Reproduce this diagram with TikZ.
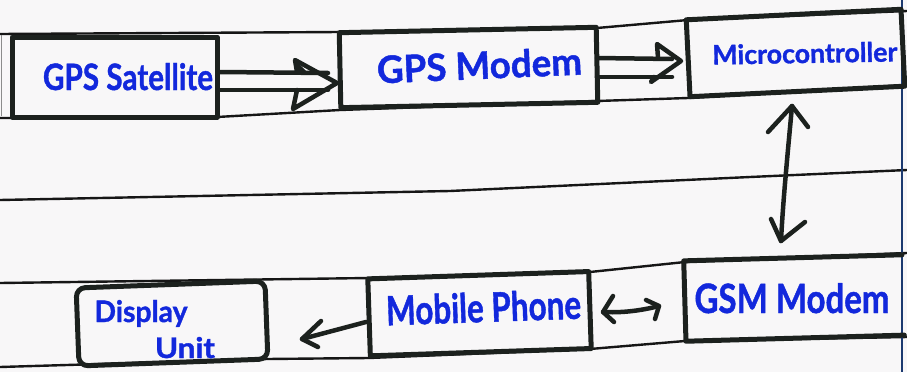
\documentclass[tikz,border=0pt]{standalone}
\usepackage{fontspec}
\setmainfont{Lato}
\newfontfamily\handfont{Lato}[BoldFeatures={FakeBold=1.2}]
\usepackage{graphicx}
\usetikzlibrary{calc}

\definecolor{ink}{RGB}{28,33,30}
\definecolor{pen}{RGB}{18,40,220}
\definecolor{marginblue}{RGB}{28,58,112}
\definecolor{paper}{RGB}{248,247,248}
\definecolor{ruleink}{RGB}{22,22,22}

\begin{document}
\begin{tikzpicture}[x=1pt,y=-1pt,
  box/.style={draw=ink, line width=5pt, inner sep=0pt, line join=round},
  openbox/.style={inner sep=0pt},
  boxedge/.style={draw=ink, line width=5pt, line join=round, line cap=round},
  ruled/.style={draw=ruleink, line width=2.4pt},
  marginline/.style={draw=marginblue, line width=2.4pt},
  conn/.style={draw=ink, line width=4.5pt, line cap=round, line join=round},
  txt/.style={text=pen, inner sep=0pt, font=\handfont\bfseries, anchor=base}]

% paper
\fill[paper] (0,0) rectangle (907,372);
\useasboundingbox (0,0) rectangle (907,372);

% ruled lines of the notebook page
\draw[ruled] (0,34) -- (340,32) -- (597,28) -- (688,20) -- (907,11);
\draw[ruled] (0,118) -- (217,117) -- (340,110) -- (597,101) -- (688,98) -- (907,85);
\draw[ruled] (0,200) -- (450,191) -- (750,177) -- (907,170);
\draw[ruled] (0,283) -- (369,278) -- (590,272) -- (685,262) -- (907,253);
\draw[ruled] (0,367) -- (267,359) -- (369,358) -- (590,349) -- (685,341) -- (907,337);
\draw[draw=black!45, line width=1pt] (1.5,35) -- (1.5,116);

% margin
\draw[marginline] (902,0) -- (902,372);

% blocks
\node[box, minimum width=205, minimum height=80] (sat) at (114.5,77) {};
\node[box, minimum width=257, minimum height=75, rotate=1.2] (gmod) at (468.5,67.5) {};
\node[box, minimum width=215, minimum height=77, rotate=2.8] (mcu) at (795.5,53) {};
\node[box, minimum width=189, minimum height=78, rotate=2.1, rounded corners=9pt] (disp) at (172,323.5) {};
\node[box, minimum width=221, minimum height=77, rotate=1.9] (mob) at (479.5,313.7) {};
\node[openbox, minimum width=218, minimum height=80, rotate=1.6] (gsm) at (794,298) {};
\draw[boxedge] (gsm.north east) -- (gsm.north west) -- (gsm.south west) -- (gsm.south east);

% labels
\node[txt] (tsat) at (128,90) {\resizebox{170pt}{27pt}{GPS Satellite}};
\node[txt, rotate=2.5] (tgmod) at (480,79) {\resizebox{205pt}{28pt}{GPS Modem}};
\node[txt, rotate=1] (tmcu) at (805,63) {\resizebox{185pt}{20pt}{Microcontroller}};
\node[txt] (tdisp) at (141,322) {\resizebox{93pt}{22pt}{Display}};
\node[txt] (tunit) at (185,358) {\resizebox{60pt}{21pt}{Unit}};
\node[txt, rotate=2] (tmob) at (484,322) {\resizebox{195pt}{30pt}{Mobile Phone}};
\node[txt] (tgsm) at (792,313) {\resizebox{195pt}{30pt}{GSM Modem}};

% GPS Satellite => GPS Modem
\coordinate (s1a) at ($(sat.east)+(0,-5)$);
\coordinate (s1b) at ($(sat.east)+(0,13)$);
\coordinate (m1a) at (328,73);
\coordinate (m1b) at (328,90);
\draw[conn] (s1a) -- (m1a);
\draw[conn] (s1b) -- (m1b);
\draw[conn] (297,72) -- (295,60) -- (337,83) -- (293,109) -- (297,90);
\fill[ink] (295,60) -- (308,73) -- (298,73) -- cycle;

% GPS Modem => Microcontroller
\coordinate (g2a) at (597,58);
\coordinate (g2b) at (597,77);
\coordinate (c2a) at (672,59);
\coordinate (c2b) at (672,77);
\draw[conn] (g2a) -- (c2a);
\draw[conn] (g2b) -- (c2b);
\draw[conn] (658,58) -- (657,44) -- (681,61) -- (651,82) -- (654,77);

% Microcontroller <-> GSM Modem
\coordinate (v1) at (792,106);
\coordinate (v2) at (781,241);
\draw[conn] (v1) .. controls (788,150) and (783,200) .. (v2);
\draw[conn] (768,132) -- (v1) -- (808,127);
\draw[conn] (771,219) -- (v2) -- (805,222);

% Mobile Phone -> Display Unit
\coordinate (p1) at (366,322);
\coordinate (p2) at (302,339);
\draw[conn] (p1) -- (p2);
\draw[conn] (321,321) -- (p2) -- (318,347);

% Mobile Phone <-> GSM Modem
\coordinate (q1) at (603,312);
\coordinate (q2) at (659,306);
\draw[conn] (q1) .. controls (620,313) and (640,311) .. (q2);
\draw[conn] (613,296) -- (q1) -- (614,322);
\draw[conn] (646,300) -- (q2) -- (655,319);

\end{tikzpicture}
\end{document}
